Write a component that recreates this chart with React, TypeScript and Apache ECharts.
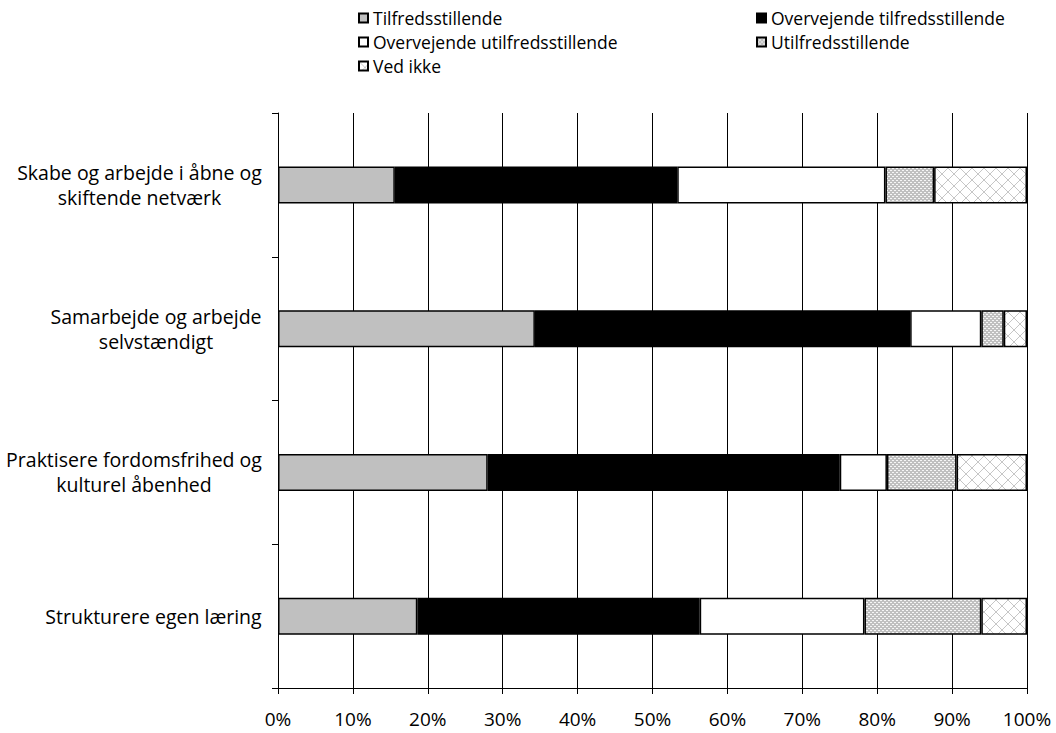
import React, { useEffect, useRef } from "react";
import * as echarts from "echarts";

const categoryLines: string[][] = [
  ["Skabe og arbejde i åbne og", "skiftende netværk"],
  ["Samarbejde og arbejde", "selvstændigt"],
  ["Praktisere fordomsfrihed og", "kulturel åbenhed"],
  ["Strukturere egen læring"],
];
const categories = categoryLines.map((l) => l.join("\n"));

const seriesNames = [
  "Tilfredsstillende",
  "Overvejende tilfredsstillende",
  "Overvejende utilfredsstillende",
  "Utilfredsstillende",
  "Ved ikke",
];

const tilfreds = [15.6, 34.3, 28.0, 18.6];
const overvejendeTilfreds = [37.7, 50.1, 47.0, 37.7];
const overvejendeUtilfreds = [27.8, 9.5, 6.3, 22.0];
const utilfreds = [6.5, 3.0, 9.3, 15.6];
const vedIkke = [12.4, 3.1, 9.4, 6.1];

const xTickStep = 10;

const FONT = "Open Sans";
const FS_Y = 19.5;
const FS_X = 19;
const FS_L = 17.5;

function makeDots() {
  const c = document.createElement("canvas");
  c.width = 4;
  c.height = 4;
  const g = c.getContext("2d")!;
  g.fillStyle = "#c0c0c0";
  g.fillRect(0, 0, 4, 4);
  g.fillStyle = "#f6f6f6";
  g.fillRect(0, 0, 2, 1);
  g.fillRect(2, 2, 2, 1);
  return c;
}

function makeCross() {
  const s = 12;
  const c = document.createElement("canvas");
  c.width = s;
  c.height = s;
  const g = c.getContext("2d")!;
  g.fillStyle = "#ffffff";
  g.fillRect(0, 0, s, s);
  g.strokeStyle = "#c6c6c6";
  g.lineWidth = 1;
  g.beginPath();
  g.moveTo(0, 0);
  g.lineTo(s, s);
  g.moveTo(s, 0);
  g.lineTo(0, s);
  g.stroke();
  return c;
}

export default function App() {
  const ref = useRef<HTMLDivElement>(null);
  useEffect(() => {
    if (!ref.current) return;
    const chart = echarts.init(ref.current, undefined, { renderer: "svg" });

    const mc = document.createElement("canvas").getContext("2d")!;
    mc.font = `${FS_Y}px "${FONT}"`;
    const widths = categoryLines.map((lines) =>
      Math.ceil(Math.max(...lines.map((l) => mc.measureText(l).width)))
    );
    const rich: any = {};
    widths.forEach((w, i) => {
      rich["c" + i] = {
        width: w,
        align: "center",
        fontFamily: FONT,
        fontSize: FS_Y,
        lineHeight: 25,
        color: "#000",
      };
    });

    const dots = { image: makeDots(), repeat: "repeat" };
    const cross = { image: makeCross(), repeat: "repeat" };
    const fills: any[] = ["#c0c0c0", "#000000", "#ffffff", dots, cross];
    const datasets = [tilfreds, overvejendeTilfreds, overvejendeUtilfreds, utilfreds, vedIkke];

    const legendText = { fontFamily: FONT, fontSize: FS_L, color: "#000", lineHeight: 24 };
    const legendCommon = {
      orient: "vertical",
      top: 6,
      padding: 0,
      itemWidth: 9,
      itemHeight: 9,
      itemGap: 0,
      icon: "rect",
      textStyle: legendText,
      selectedMode: false,
    };

    chart.setOption({
      animation: false,
      backgroundColor: "#fff",
      legend: [
        { ...legendCommon, data: [seriesNames[0], seriesNames[2], seriesNames[4]], left: 358 },
        { ...legendCommon, data: [seriesNames[1], seriesNames[3]], left: 756 },
      ],
      grid: { left: 278, right: 29, top: 113, bottom: 45, containLabel: false },
      xAxis: {
        type: "value",
        min: 0,
        max: 100,
        interval: xTickStep,
        axisLine: { show: true, lineStyle: { color: "#000", width: 1 } },
        axisTick: { show: true, length: 6, lineStyle: { color: "#000" } },
        splitLine: { show: true, lineStyle: { color: "#000", width: 1 } },
        axisLabel: {
          formatter: "{value}%",
          fontFamily: FONT,
          fontSize: FS_X,
          color: "#000",
          margin: 21,
        },
      },
      yAxis: {
        type: "category",
        inverse: true,
        data: categories,
        axisLine: { show: true, lineStyle: { color: "#000", width: 1 } },
        axisTick: { show: true, length: 6, alignWithLabel: false, lineStyle: { color: "#000" } },
        splitLine: { show: false },
        axisLabel: {
          margin: 16,
          fontFamily: FONT,
          fontSize: FS_Y,
          color: "#000",
          formatter: (_v: string, i: number) =>
            categoryLines[i].map((l) => `{c${i}|${l}}`).join("\n"),
          rich,
        },
      },
      series: seriesNames.map((name, k) => ({
        name,
        type: "bar",
        stack: "total",
        barWidth: 37,
        data: datasets[k],
        itemStyle: { color: fills[k], borderColor: "#000", borderWidth: 1.5 },
        emphasis: { disabled: true },
      })),
    });
    return () => chart.dispose();
  }, []);
  return (
    <div
      ref={ref}
      style={{ position: "fixed", left: 0, top: 0, width: 1056, height: 733 }}
    />
  );
}
